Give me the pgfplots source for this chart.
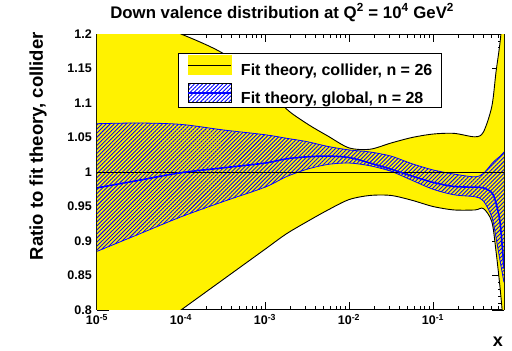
\documentclass[border=0pt]{standalone}
\usepackage{fontspec}
\setmainfont{Liberation Sans}
\usepackage{pgfplots}
\pgfplotsset{compat=1.18}
\usepgfplotslibrary{fillbetween}
\usetikzlibrary{patterns.meta}

\pgfplotstableread{
x        cu     cl     gu     gc     gl
1e-5     1.240  0.712  1.070  0.977  0.885
3.162e-5 1.222  0.756  1.071  0.988  0.910
1e-4     1.200  0.800  1.069  0.999  0.935
3.162e-4 1.172  0.844  1.061  1.006  0.957
1e-3     1.128  0.888  1.054  1.013  0.978
1.778e-3 1.092  0.910  1.049  1.019  0.993
3.162e-3 1.070  0.928  1.044  1.022  1.004
5.623e-3 1.052  0.945  1.037  1.023  1.011
1e-2     1.035  0.960  1.032  1.021  1.013
1.778e-2 1.033  0.966  1.029  1.013  1.009
3.162e-2 1.042  0.966  1.023  1.004  1.001
5.623e-2 1.050  0.959  1.012  0.994  0.988
0.1      1.055  0.950  1.003  0.985  0.975
0.1778   1.056  0.945  0.997  0.979  0.967
0.3162   1.051  0.945  0.993  0.978  0.964
0.3981   1.058  0.947  0.998  0.977  0.958
0.5012   1.095  0.928  1.012  0.970  0.935
0.5623   1.145  0.885  1.018  0.955  0.905
0.6310   1.190  0.830  1.023  0.925  0.870
0.7      1.250  0.770  1.029  0.860  0.840
}\datatable

\begin{document}
\begin{tikzpicture}
\begin{axis}[
  set layers,
  scale only axis, width=407pt, height=276pt,
  xmode=log, xmin=1e-5, xmax=0.7, ymin=0.8, ymax=1.2,
  axis line style={line width=1pt},
  tick align=inside,
  tick style={black, line width=0.8pt},
  xtick style={/pgfplots/major tick length=8pt, /pgfplots/minor tick length=4pt},
  ytick style={/pgfplots/major tick length=12pt, /pgfplots/minor tick length=6pt},
  xtick={1e-5,1e-4,1e-3,1e-2,1e-1},
  xticklabels={10\textsuperscript{-5},10\textsuperscript{-4},10\textsuperscript{-3},10\textsuperscript{-2},10\textsuperscript{-1}},
  minor xtick={2e-5,3e-5,4e-5,5e-5,6e-5,7e-5,8e-5,9e-5,
               2e-4,3e-4,4e-4,5e-4,6e-4,7e-4,8e-4,9e-4,
               2e-3,3e-3,4e-3,5e-3,6e-3,7e-3,8e-3,9e-3,
               2e-2,3e-2,4e-2,5e-2,6e-2,7e-2,8e-2,9e-2,
               0.2,0.3,0.4,0.5,0.6},
  ytick={0.8,0.85,0.9,0.95,1,1.05,1.1,1.15,1.2},
  yticklabels={0.8,0.85,0.9,0.95,1,1.05,1.1,1.15,1.2},
  minor y tick num=4,
  ticklabel style={font=\bfseries\fontsize{12.5}{14}\selectfont, inner sep=0pt},
  xticklabel style={yshift=-4pt},
  yticklabel style={xshift=-5pt},
  title={Down valence distribution at Q\textsuperscript{2} = 10\textsuperscript{4} GeV\textsuperscript{2}},
  title style={font=\bfseries\fontsize{16.8}{19}\selectfont, at={(rel axis cs:0.455,1)}, anchor=base, yshift=10pt, inner sep=0pt},
  ylabel={Ratio to fit theory, collider},
  ylabel style={font=\bfseries\fontsize{18.5}{20}\selectfont, at={(rel axis cs:-0.1327,1.007)}, anchor=base east, inner sep=0pt},
  xlabel={x},
  xlabel style={font=\bfseries\fontsize{18}{20}\selectfont, at={(rel axis cs:0.998,-0.134)}, anchor=base east, inner sep=0pt},
  legend cell align=left,
  legend style={at={(rel axis cs:0.199,0.931)}, anchor=north west, draw=black, line width=0.8pt, fill=white,
    font=\bfseries\fontsize{16}{18}\selectfont, inner xsep=9pt, inner ysep=2pt, row sep=6pt,
    nodes={inner sep=0pt},
    /tikz/every odd column/.append style={column sep=9pt}},
]
\addplot[name path=cu, black, line width=0.9pt, smooth, forget plot] table[x=x, y=cu] {\datatable};
\addplot[name path=cl, black, line width=0.9pt, smooth, forget plot] table[x=x, y=cl] {\datatable};
\addplot[fill=yellow, draw=none, forget plot] fill between[of=cu and cl];
\addplot[name path=gu, blue, line width=0.8pt, smooth, forget plot] table[x=x, y=gu] {\datatable};
\addplot[name path=gl, blue, line width=0.8pt, smooth, forget plot] table[x=x, y=gl] {\datatable};
\addplot[pattern={Lines[angle=45,distance=2.85pt,line width=0.9pt]}, pattern color=blue, draw=none, forget plot] fill between[of=gu and gl];
\addplot[black, line width=1pt, forget plot] coordinates {(1e-5,1) (0.7,1)};
\addplot[blue, line width=1.6pt, smooth, forget plot] table[x=x, y=gc] {\datatable};

\addlegendimage{legend image code/.code={\fill[yellow] (0pt,-4pt) rectangle (43pt,15pt); \draw[black,line width=0.8pt] (0pt,5.5pt)--(43pt,5.5pt);}}
\addlegendentry{Fit theory, collider, n = 26}
\addlegendimage{legend image code/.code={\fill[pattern={Lines[angle=45,distance=2.85pt,line width=0.9pt]},pattern color=blue] (0pt,-4pt) rectangle (43pt,15pt); \draw[blue,line width=1.6pt] (0pt,5.5pt)--(43pt,5.5pt);}}
\addlegendentry{Fit theory, global, n = 28}
\end{axis}
\pgfresetboundingbox
\useasboundingbox (-97pt,-41pt) rectangle (415pt,310pt);
\end{tikzpicture}
\end{document}
